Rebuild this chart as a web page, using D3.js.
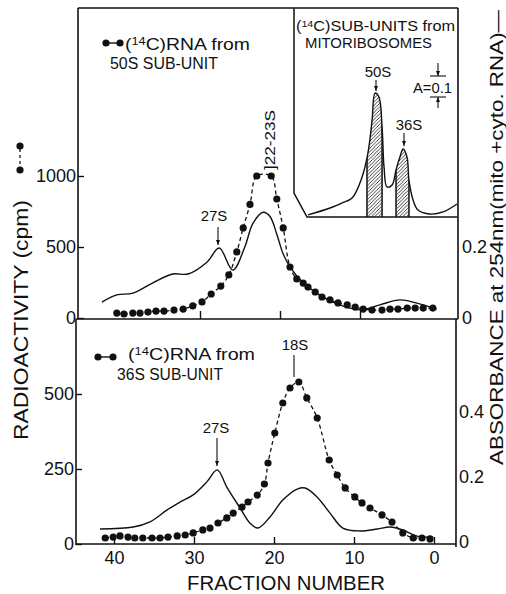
<!DOCTYPE html>
<html>
<head>
<meta charset="utf-8">
<style>
  body { margin: 0; background: #fff; }
  svg { display: block; }
  text { font-family: "Liberation Sans", Arial, sans-serif; fill: #111; }
</style>
</head>
<body>
<svg width="506" height="594"></svg>
<script src="https://d3js.org/d3.v7.min.js"></script>
<script>
// ---- data ----
// top panel: 14C RNA from 50S sub-unit (fraction, cpm)
const topFrac = [40.4, 39.5, 38.4, 37.5, 36.5, 35.5, 34.5, 33.25, 32.1, 30.9, 29.75, 28.6, 27.4, 26.4, 25.4, 24.6, 23.75,
                 22.9, 21.1, 20.4, 19.6, 18.75, 17.9, 17.1, 16.5, 15.6, 14.75, 13.75, 12.75, 11.6, 10.6, 9.6, 8.5,
                 7.25, 6.25, 5.25, 4.1, 3.1, 2.1, 0.9];
const topCpm  = [35, 28, 35, 35, 42, 49, 49, 56, 63, 85, 113, 169, 225, 303, 465, 634, 800,
                 1000, 1000, 838, 634, 359, 275, 246, 218, 183, 148, 127, 106, 92, 77, 63, 56,
                 56, 63, 63, 70, 70, 70, 70];
// top panel: absorbance trace (fraction, A254)
const topAbsFrac = [42.25, 40.4, 38.4, 35.9, 33.4, 31.5, 29.1, 27.6, 25.9, 24.4, 23.4, 22.1, 21.25, 20.4, 19.6,
                    18.75, 17.1, 15.4, 13.4, 11.25, 9.75, 7.5, 5, 2.9, 0.4];
const topAbs     = [0.045, 0.065, 0.07, 0.099, 0.124, 0.124, 0.158, 0.197, 0.135, 0.2, 0.266, 0.298, 0.286, 0.236, 0.18,
                    0.144, 0.099, 0.07, 0.045, 0.028, 0.023, 0.037, 0.051, 0.042, 0.025];

// bottom panel: 14C RNA from 36S sub-unit (fraction, cpm)
const botFrac = [41.1, 40.1, 39.25, 38.25, 37.4, 36.4, 35.25, 34.25, 33.25, 32.1, 31.1, 30.1, 28.9, 28, 27, 25.9,
                 25.1, 24, 23.25, 22.1, 21.2, 20.75, 19.9, 18.9, 18, 16.9, 15.9, 14.6, 13.1, 12.1, 11.1, 9.9,
                 9, 8, 6.5, 5.25, 3.9, 2.6, 1.5, 0.5];
const botCpm  = [20, 23, 27, 23, 20, 20, 20, 20, 23, 27, 30, 37, 47, 53, 70, 87,
                 103, 123, 140, 163, 200, 270, 370, 470, 520, 540, 487, 420, 280, 230, 187, 157,
                 137, 120, 97, 73, 37, 20, 20, 17];
const botAbsFrac = [41.75, 37.6, 35.5, 33.4, 31.75, 30.1, 28.4, 27.1, 25.9, 24.25, 23, 22, 20.5, 18.9, 17.1,
                    16.1, 14.6, 13, 11.4, 9.25, 7.1, 5.5, 3.9, 2.1, 0.1];
const botAbs     = [0.04, 0.046, 0.062, 0.098, 0.123, 0.145, 0.185, 0.222, 0.169, 0.105, 0.058, 0.043, 0.077, 0.129, 0.163,
                    0.166, 0.138, 0.089, 0.043, 0.034, 0.04, 0.046, 0.037, 0.018, 0.015];

// inset: gradient of mitoribosome sub-units (position 0-100, A)
const insetPos = [8.5, 22, 29.3, 35.4, 41.5, 45.1, 47.6, 49.4, 51.8, 53.7, 54.9, 56.7, 59.8, 62.2, 64.6, 66.5,
                  68.9, 70.1, 72.6, 75.6, 82.9, 90.9, 99.4];
const insetAbs = [0.01, 0.043, 0.067, 0.09, 0.19, 0.305, 0.46, 0.59, 0.571, 0.43, 0.238, 0.143, 0.152, 0.224, 0.286, 0.324,
                  0.286, 0.176, 0.081, 0.033, 0.014, 0.024, 0.062];
const insetShade = [[44.5, 53.7], [62.2, 70.1]];

const topCpmTicks = [0, 500, 1000];
const botCpmTicks = [0, 250, 500];
const topAbsTicks = [0, 0.2];
const botAbsTicks = [0, 0.2, 0.4];
const fracTicks = [0, 10, 20, 30, 40];

// ---- scales ----
const xTop = d3.scaleLinear().domain([0, 40]).range([440, 120]);
const yTopL = d3.scaleLinear().domain([0, 1000]).range([318, 176]);
const yTopR = d3.scaleLinear().domain([0, 0.2]).range([318, 247]);
const xBot = d3.scaleLinear().domain([0, 40]).range([434, 114]);
const yBotL = d3.scaleLinear().domain([0, 500]).range([544, 394]);
const yBotR = d3.scaleLinear().domain([0, 0.4]).range([542, 412]);
const xIn = d3.scaleLinear().domain([0, 100]).range([294, 458]);
const yIn = d3.scaleLinear().domain([0, 0.1]).range([217, 196]);

const svg = d3.select("svg");
const ink = "#111";

const defs = svg.append("defs");
defs.append("marker")
    .attr("id", "arr")
    .attr("viewBox", "0 0 10 10")
    .attr("refX", 10).attr("refY", 5)
    .attr("markerWidth", 5).attr("markerHeight", 7)
    .attr("markerUnits", "userSpaceOnUse")
    .attr("orient", "auto")
    .append("path").attr("d", "M0,1L10,5L0,9z").attr("fill", ink);
defs.append("pattern")
    .attr("id", "hatch")
    .attr("patternUnits", "userSpaceOnUse")
    .attr("width", 3.5).attr("height", 3.5)
    .append("path")
    .attr("d", "M0,3.5L3.5,0M-1,1L1,-1M2.5,4.5L4.5,2.5")
    .attr("stroke", ink).attr("stroke-width", 0.8);

// ---- frames ----
function seg(x1, y1, x2, y2, w) {
    svg.append("line").attr("x1", x1).attr("y1", y1).attr("x2", x2).attr("y2", y2)
        .attr("stroke", ink).attr("stroke-width", w || 1.6);
}
seg(78, 8, 458, 8);
seg(78, 8, 78, 319);
seg(458, 8, 458, 319);
seg(76, 319, 458, 319);
seg(76, 319, 76, 545);
seg(456, 319, 456, 547);
seg(76, 544, 456, 544);

// ---- axes ----
function styleAxis(g, size) {
    g.select(".domain").remove();
    g.selectAll("line").attr("stroke", ink).attr("stroke-width", 1.4);
    g.selectAll("text").attr("font-size", size || 18).attr("fill", ink)
        .style("font-family", "'Liberation Sans', Arial, sans-serif");
}
const absFmt = d => d === 0 ? "0" : d3.format(".1f")(d);
const cpmFmt = d3.format("d");

svg.append("g").attr("transform", "translate(78,0)")
    .call(d3.axisLeft(yTopL).tickValues(topCpmTicks).tickFormat(cpmFmt).tickSizeInner(-6).tickSizeOuter(0).tickPadding(2))
    .call(styleAxis);
svg.append("g").attr("transform", "translate(76,0)")
    .call(d3.axisLeft(yBotL).tickValues(botCpmTicks).tickFormat(cpmFmt).tickSizeInner(-6).tickSizeOuter(0).tickPadding(2))
    .call(styleAxis);
svg.append("g").attr("transform", "translate(458,0)")
    .call(d3.axisRight(yTopR).tickValues(topAbsTicks).tickSize(0).tickPadding(4).tickFormat(absFmt))
    .call(styleAxis);
svg.append("g").attr("transform", "translate(456,0)")
    .call(d3.axisRight(yBotR).tickValues(botAbsTicks).tickSize(0).tickPadding(3).tickFormat(absFmt))
    .call(styleAxis);
svg.append("g").attr("transform", "translate(0,544)")
    .call(d3.axisBottom(xBot).tickValues(fracTicks).tickSizeInner(-7).tickSizeOuter(0).tickPadding(7))
    .call(styleAxis);
svg.append("g").attr("transform", "translate(0,319)")
    .call(d3.axisBottom(xTop).tickValues([10, 20, 30]).tickSizeInner(-8).tickSizeOuter(0).tickFormat(""))
    .call(styleAxis);

// ---- curves ----
function drawPanel(xs, yL, yR, frac, cpm, absFrac, abs) {
    const pts = frac.map((f, i) => [xs(f), yL(cpm[i])]);
    const apts = absFrac.map((f, i) => [xs(f), yR(abs[i])]);
    svg.append("path")
        .attr("d", d3.line().curve(d3.curveCatmullRom.alpha(0.5))(apts))
        .attr("fill", "none").attr("stroke", ink).attr("stroke-width", 1.4);
    svg.append("path")
        .attr("d", d3.line().curve(d3.curveCatmullRom.alpha(0.5))(pts))
        .attr("fill", "none").attr("stroke", ink).attr("stroke-width", 1.3)
        .attr("stroke-dasharray", "4,3");
    svg.append("g").selectAll("circle").data(pts).join("circle")
        .attr("cx", d => d[0]).attr("cy", d => d[1]).attr("r", 3.6).attr("fill", ink);
}
drawPanel(xTop, yTopL, yTopR, topFrac, topCpm, topAbsFrac, topAbs);
drawPanel(xBot, yBotL, yBotR, botFrac, botCpm, botAbsFrac, botAbs);

// ---- inset ----
svg.append("path").attr("d", "M294,8L294,193L307,217L458,217")
    .attr("fill", "#fff").attr("stroke", ink).attr("stroke-width", 1.5);
const inPts = insetPos.map((p, i) => [xIn(p), yIn(insetAbs[i])]);
const inCurve = d3.curveCatmullRom.alpha(0.5);
const inArea = d3.area().curve(inCurve).x(d => d[0]).y0(yIn(0)).y1(d => d[1]);
defs.append("clipPath").attr("id", "underInset").append("path").attr("d", inArea(inPts));
const shade = svg.append("g").attr("clip-path", "url(#underInset)");
insetShade.forEach(([a, b]) => {
    shade.append("rect").attr("x", xIn(a)).attr("y", 60).attr("width", xIn(b) - xIn(a)).attr("height", 160)
        .attr("fill", "url(#hatch)");
    [a, b].forEach(v => shade.append("line").attr("x1", xIn(v)).attr("x2", xIn(v)).attr("y1", 60).attr("y2", 217)
        .attr("stroke", ink).attr("stroke-width", 1.5));
});
svg.append("path").attr("d", d3.line().curve(inCurve)(inPts))
    .attr("fill", "none").attr("stroke", ink).attr("stroke-width", 1.4);

// ---- text helpers ----
function label(x, y, str, size, opts) {
    opts = opts || {};
    const t = svg.append("text").attr("x", x).attr("y", y).attr("font-size", size)
        .attr("text-anchor", opts.anchor || "start").text(str);
    if (opts.len) t.attr("textLength", opts.len).attr("lengthAdjust", "spacingAndGlyphs");
    if (opts.rot) t.attr("transform", `rotate(-90,${x},${y})`);
    return t;
}
function c14(x, y, size, rest, len) {
    const t = svg.append("text").attr("x", x).attr("y", y).attr("font-size", size);
    t.append("tspan").text("(");
    t.append("tspan").attr("font-size", size * 0.66).attr("dy", -size * 0.3).text("14");
    t.append("tspan").attr("dy", size * 0.3).text("C)" + rest);
    if (len) t.attr("textLength", len).attr("lengthAdjust", "spacingAndGlyphs");
    return t;
}
function legendMark(x1, x2, y) {
    seg(x1, y, x2, y, 1.4);
    [x1, x2].forEach(x => svg.append("circle").attr("cx", x).attr("cy", y).attr("r", 3.6).attr("fill", ink));
}
function arrow(x, y1, y2, head) {
    const l = svg.append("line").attr("x1", x).attr("y1", y1).attr("x2", x).attr("y2", y2)
        .attr("stroke", ink).attr("stroke-width", 1.1);
    if (head !== false) l.attr("marker-end", "url(#arr)");
}

// legends
legendMark(106, 120, 43);
c14(125, 50, 16, "RNA from", 125);
label(110, 69, "50S SUB-UNIT", 16, {len: 108});
legendMark(98, 113, 357);
c14(128, 360, 16, "RNA from", 127);
label(117, 380, "36S SUB-UNIT", 16, {len: 106});

// inset text
c14(296, 31, 15, "SUB-UNITS from", 159);
label(305, 48, "MITORIBOSOMES", 15, {len: 127});
label(378, 77, "50S", 15, {anchor: "middle"});
arrow(376, 80, 91);
label(409, 130, "36S", 15, {anchor: "middle"});
arrow(404, 133, 146);
label(413, 93, "A=0.1", 15, {len: 39});
seg(430, 76, 446, 76, 1.1);
seg(430, 97, 446, 97, 1.1);
arrow(438, 63, 76);
arrow(438, 108, 97);

// peak annotations
label(214, 221, "27S", 15, {anchor: "middle"});
arrow(218, 227, 245);
label(275, 170, "]22-23S", 14, {rot: true, len: 60});
label(216, 433, "27S", 15, {anchor: "middle"});
arrow(217, 438, 466);
label(295, 350, "18S", 15, {anchor: "middle"});
arrow(294, 355, 377, false);

// axis titles
label(286, 590, "FRACTION  NUMBER", 21, {anchor: "middle", len: 198});
label(28, 440, "RADIOACTIVITY  (cpm)", 20, {rot: true, len: 240});
svg.append("g").attr("transform", "translate(20,158) rotate(-90)")
    .call(g => {
        g.append("line").attr("x1", -12).attr("x2", 12).attr("stroke", ink).attr("stroke-width", 1.3)
            .attr("stroke-dasharray", "3,3");
        [-12, 12].forEach(x => g.append("circle").attr("cx", x).attr("r", 3.6).attr("fill", ink));
    });
label(503, 465, "ABSORBANCE at 254nm(mito +cyto. RNA)\u2014", 19, {rot: true, len: 455});
</script>
</body>
</html>
